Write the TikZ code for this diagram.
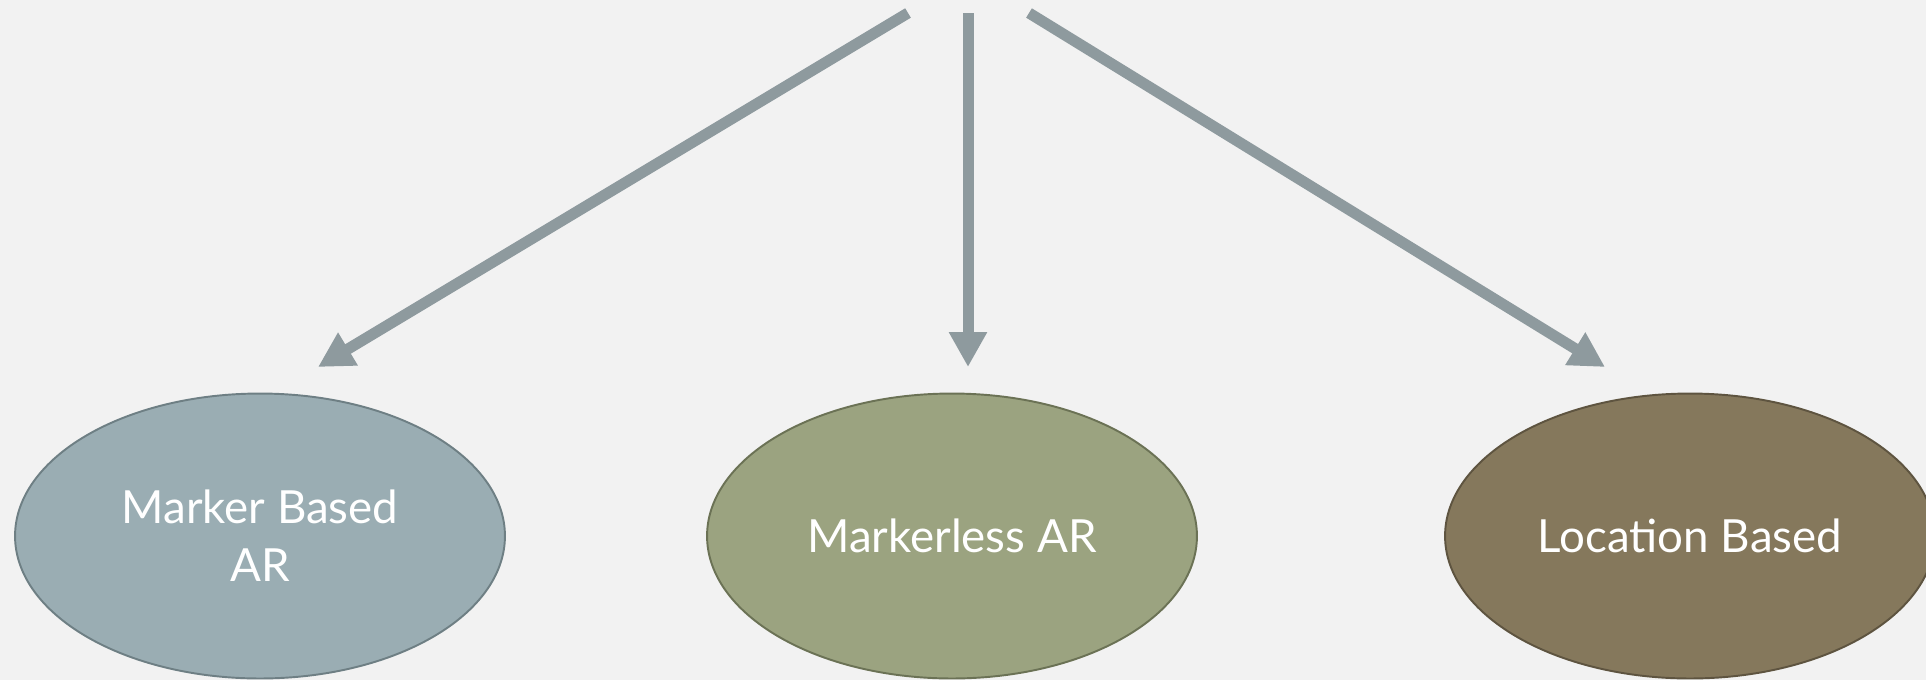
\documentclass[tikz,border=0pt]{standalone}
\usepackage{fontspec}
\setmainfont{Lato}
\usetikzlibrary{arrows.meta,shapes.geometric}

\definecolor{bgcol}{HTML}{F2F2F2}
\definecolor{arrowcol}{HTML}{8E9A9E}
\definecolor{markerfill}{HTML}{9AADB3}
\definecolor{markerline}{HTML}{6E7F84}
\definecolor{lessfill}{HTML}{9BA380}
\definecolor{lessline}{HTML}{6B7255}
\definecolor{locfill}{HTML}{85785C}
\definecolor{locline}{HTML}{5E5440}

\begin{document}
\begin{tikzpicture}[x=0.02cm, y=-0.02cm,
    flow/.style={draw=arrowcol, line width=0.22cm, -{Triangle[length=0.7cm, width=0.72cm]}},
    bubble/.style={ellipse, minimum width=9.8cm, minimum height=5.7cm, line width=1.1pt,
                   text=white, align=center, font=\fontsize{26}{33}\selectfont}]
    \fill[bgcol] (0,0) rectangle (1926,680);
    \useasboundingbox (0,0) rectangle (1926,680);

    % the three kinds of AR
    \node[bubble, fill=markerfill, draw=markerline] (marker)   at (260,536)  {Marker Based\\AR};
    \node[bubble, fill=lessfill,   draw=lessline]   (markerless) at (952,536) {Markerless AR};
    \node[bubble, fill=locfill,    draw=locline]    (location) at (1690,536) {Location Based};

    % arrow ends
    \coordinate (srcL) at (908,13);
    \coordinate (srcM) at (968,13);
    \coordinate (srcR) at (1029,13);
    \coordinate (tipL) at (318,367);
    \coordinate (tipM) at (968,367);
    \coordinate (tipR) at (1605,367);

    \draw[flow] (srcL) -- (tipL);
    \draw[flow] (srcM) -- (tipM);
    \draw[flow] (srcR) -- (tipR);
\end{tikzpicture}
\end{document}
